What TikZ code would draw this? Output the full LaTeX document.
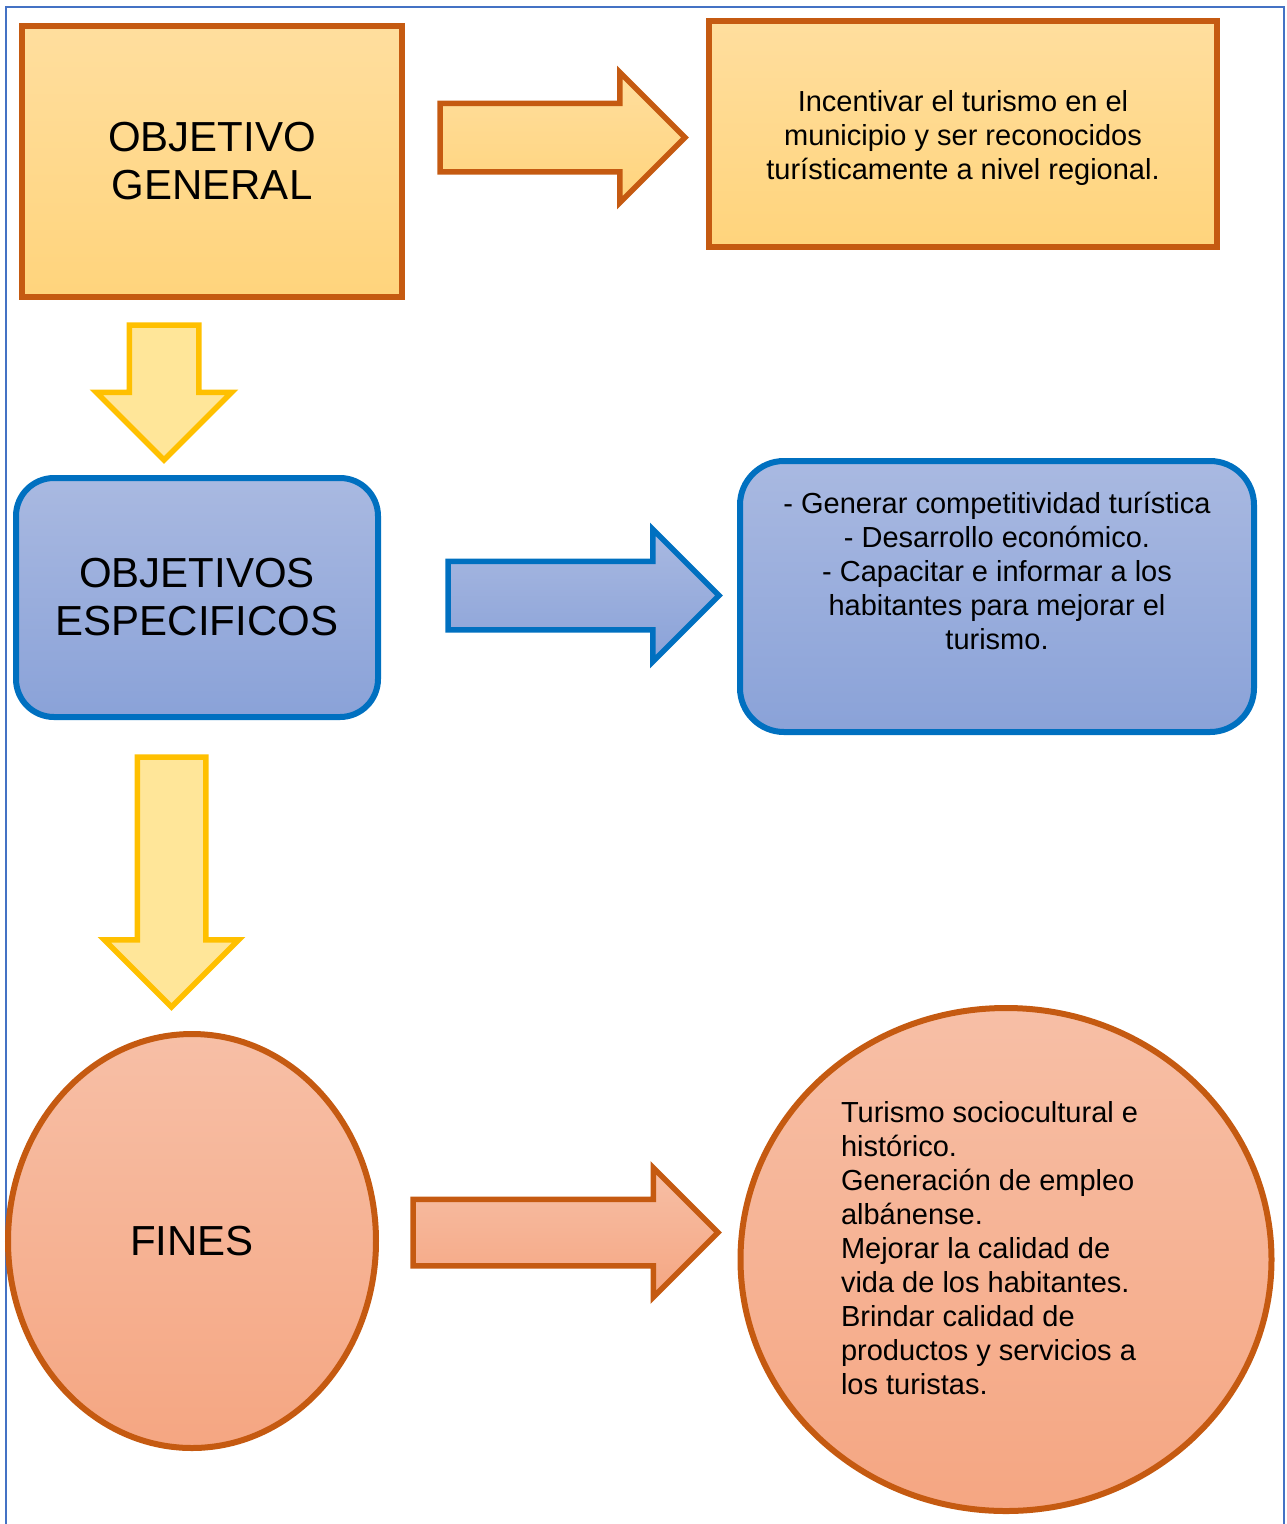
\documentclass[tikz,border=0pt]{standalone}
\usepackage{fontspec}
\setmainfont{Liberation Sans}
\usetikzlibrary{shapes.geometric,shapes.arrows}

\definecolor{rust}{HTML}{C55A11}
\definecolor{sandtop}{HTML}{FFDE9E}
\definecolor{sandbot}{HTML}{FFD47C}
\definecolor{deepblue}{HTML}{0070C0}
\definecolor{bluetop}{HTML}{A9B9E1}
\definecolor{bluebot}{HTML}{8AA2D8}
\definecolor{salmontop}{HTML}{F7BFA6}
\definecolor{salmonbot}{HTML}{F5A682}
\definecolor{gold}{HTML}{FFC000}
\definecolor{paleyellow}{HTML}{FFE699}
\definecolor{frameblue}{HTML}{4472C4}

\begin{document}
\begin{tikzpicture}[
    x=1pt, y=-1pt,
    bigtext/.style={font=\fontsize{42}{48}\selectfont, align=center},
    smalltext/.style={font=\fontsize{29}{34}\selectfont},
    genbox/.style={rectangle, draw=rust, line width=6pt, top color=sandtop, bottom color=sandbot, inner sep=0pt},
    specbox/.style={rectangle, rounded corners=38pt, draw=deepblue, line width=6pt, top color=bluetop, bottom color=bluebot, inner sep=0pt},
    endbox/.style={ellipse, draw=rust, line width=6pt, top color=salmontop, bottom color=salmonbot, inner sep=0pt},
    blockarrow/.style={single arrow, single arrow tip angle=90, line width=5.5pt, outer sep=0pt, anchor=tail},
    sandarrow/.style={blockarrow, draw=rust, top color=sandtop, bottom color=sandbot},
    bluearrow/.style={blockarrow, draw=deepblue, top color=bluetop, bottom color=bluebot},
    salmonarrow/.style={blockarrow, draw=rust, top color=salmontop, bottom color=salmonbot},
    goldarrow/.style={blockarrow, draw=gold, fill=paleyellow, shape border rotate=270}
]
\useasboundingbox (0,0) rectangle (1286,1524);
\draw[frameblue, line width=2pt] (6,7) rectangle (1284,1540);

\node[genbox, bigtext, minimum width=380pt, minimum height=271pt] (objgen) at (212,161.5) {OBJETIVO\\GENERAL};
\node[genbox, smalltext, minimum width=508pt, minimum height=226pt] (objgentxt) at (963,134) {\parbox[c][88pt][t]{500pt}{\centering Incentivar el turismo en el\\municipio y ser reconocidos\\turísticamente a nivel regional.}};
\node[specbox, bigtext, minimum width=362pt, minimum height=239pt] (objesp) at (197,597.5) {OBJETIVOS\\ESPECIFICOS};
\node[specbox, smalltext, rounded corners=44pt, minimum width=514pt, minimum height=271pt] (objesptxt) at (997,596.5) {\parbox[c][209pt][t]{500pt}{\centering - Generar competitividad turística\\- Desarrollo económico.\\- Capacitar e informar a los\\habitantes para mejorar el\\turismo.}};
\node[endbox, bigtext, minimum width=368pt, minimum height=414pt] (fines) at (192,1241) {FINES};
\node[endbox, smalltext, minimum width=531pt, minimum height=503pt] (finestxt) at (1006,1259.5) {\parbox[c][317pt][t]{330pt}{\raggedright Turismo sociocultural e\\histórico.\\Generación de empleo\\albánense.\\Mejorar la calidad de\\vida de los habitantes.\\Brindar calidad de\\productos y servicios a\\los turistas.}};

\node[sandarrow, minimum height=245pt, inner sep=31.5pt, single arrow head extend=31pt, minimum width=125pt] (genarrow) at (440,137.5) {};
\node[goldarrow, minimum height=135pt, inner sep=32pt, single arrow head extend=33pt, minimum width=130pt] (downone) at (164,325) {};
\node[bluearrow, minimum height=271pt, inner sep=31.5pt, single arrow head extend=32pt, minimum width=128pt] (esparrow) at (448,595.5) {};
\node[goldarrow, minimum height=250pt, inner sep=31.5pt, single arrow head extend=33pt, minimum width=130pt] (downtwo) at (171.5,757) {};
\node[salmonarrow, minimum height=305pt, inner sep=30.5pt, single arrow head extend=31.5pt, minimum width=125pt] (finarrow) at (413,1232.5) {};
\end{tikzpicture}
\end{document}
